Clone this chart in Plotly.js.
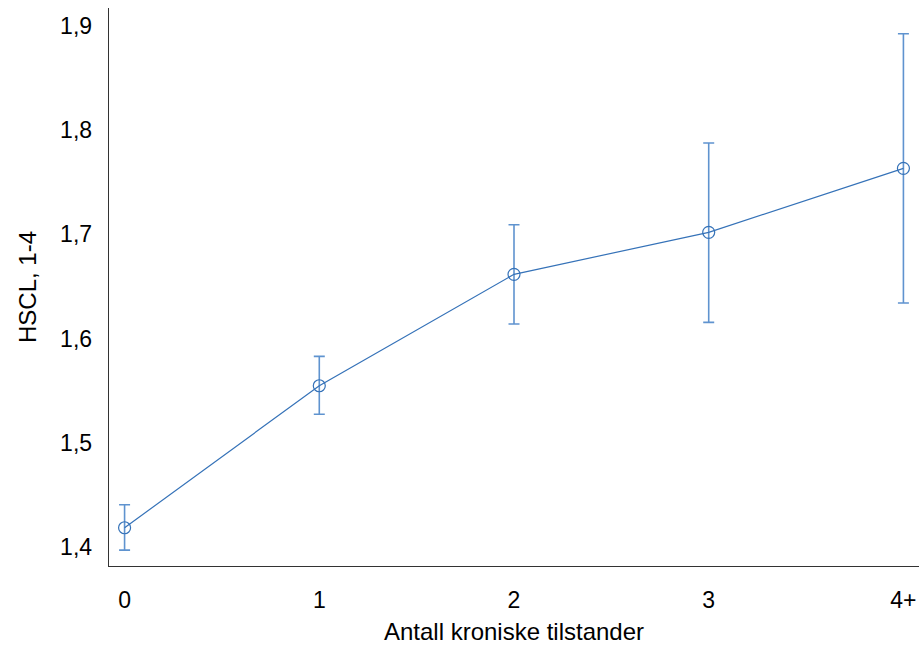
<!DOCTYPE html>
<html>
<head>
<meta charset="utf-8">
<script src="https://cdn.plot.ly/plotly-3.0.1.min.js"></script>
<style>html,body{margin:0;padding:0;background:#fff}#chart{width:922px;height:645px}</style>
</head>
<body>
<div id="chart"></div>
<script>
const categories = ["0", "1", "2", "3", "4+"];
const xPositions = [0, 1, 2, 3, 4];
const meanValues = [1.4185, 1.5548, 1.6617, 1.702, 1.7634];
const upperValues = [1.4406, 1.583, 1.7093, 1.7877, 1.8926];
const lowerValues = [1.397, 1.5274, 1.614, 1.6156, 1.6342];
const yTickVals = [1.4, 1.5, 1.6, 1.7, 1.8, 1.9];

const errPlus = meanValues.map((m, i) => upperValues[i] - m);
const errMinus = meanValues.map((m, i) => m - lowerValues[i]);

const trace = {
  x: xPositions,
  y: meanValues,
  type: 'scatter',
  mode: 'lines+markers',
  line: {color: '#3572b8', width: 1.2},
  marker: {symbol: 'circle-open', size: 12, color: '#3572b8', line: {width: 1.2, color: '#3572b8'}},
  error_y: {type: 'data', symmetric: false, array: errPlus, arrayminus: errMinus,
            color: '#5f93cf', thickness: 1.6, width: 5.5},
  hoverinfo: 'skip'
};

const layout = {
  width: 922, height: 645,
  margin: {l: 109, r: 3, t: 8, b: 79},
  paper_bgcolor: '#fff', plot_bgcolor: '#fff',
  separators: ', ',
  font: {family: 'Liberation Sans, Arial, sans-serif', color: '#000', size: 23},
  showlegend: false,
  xaxis: {
    range: [-0.08, 4.08],
    tickvals: xPositions, ticktext: categories,
    showgrid: false, zeroline: false,
    showline: true, linecolor: '#333', linewidth: 1.3,
    ticks: '', ticklabelstandoff: 13,
    tickfont: {size: 23},
    title: {text: 'Antall kroniske tilstander', font: {size: 24}, standoff: 11}
  },
  yaxis: {
    range: [1.3818, 1.9173],
    tickvals: yTickVals, tickformat: '.1f',
    showgrid: false, zeroline: false,
    showline: true, linecolor: '#333', linewidth: 1.3,
    ticks: '', ticklabelstandoff: 11,
    tickfont: {size: 23},
    title: {text: 'HSCL, 1-4', font: {size: 24}, standoff: 16}
  }
};

Plotly.newPlot('chart', [trace], layout, {displayModeBar: false, staticPlot: true});
</script>
</body>
</html>
